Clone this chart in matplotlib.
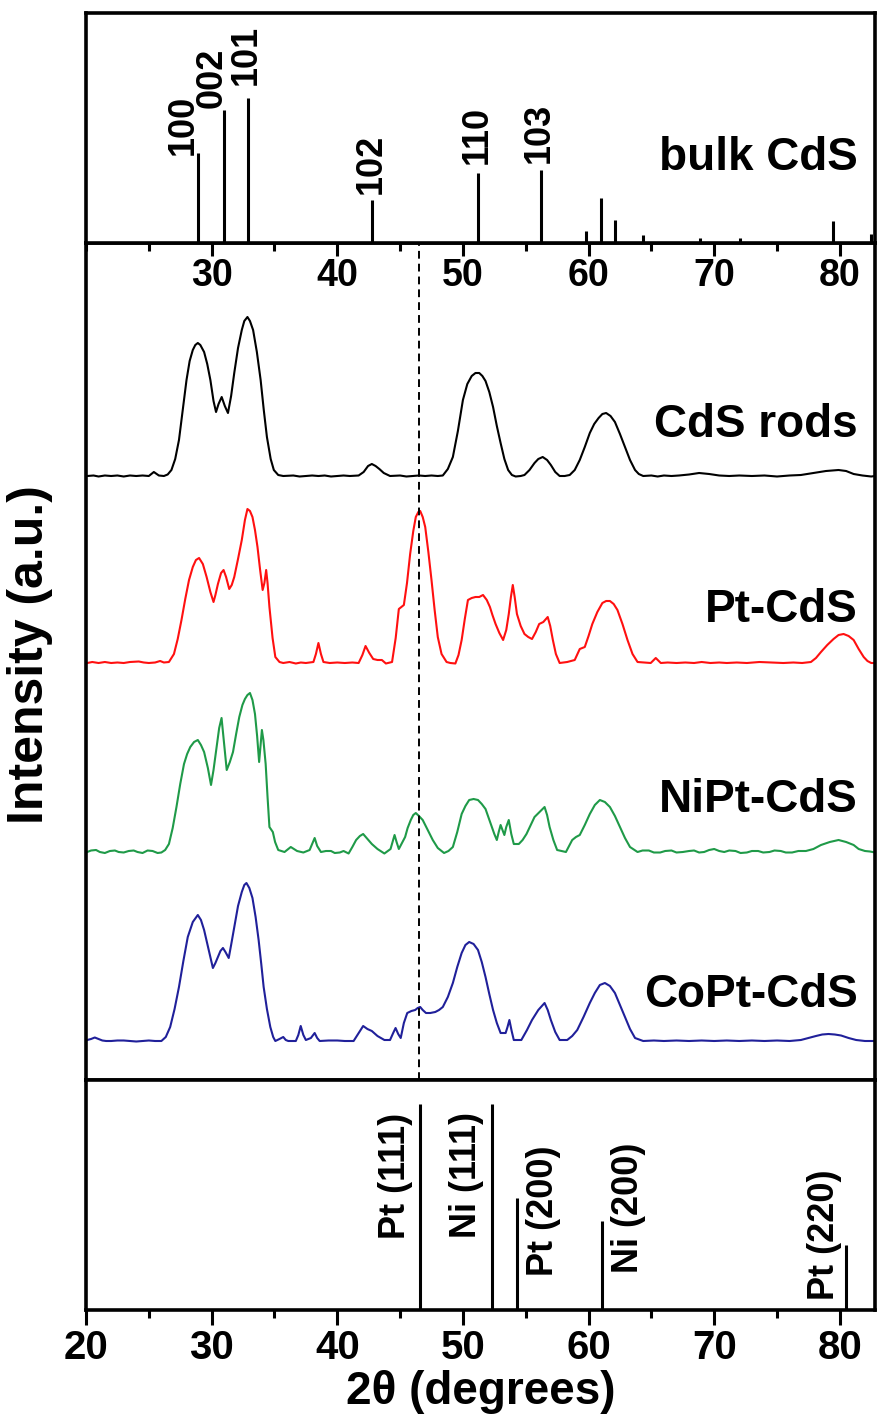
import matplotlib.pyplot as plt
from matplotlib.ticker import MultipleLocator

# bulk CdS reference lines (top panel), 2theta and relative height
cds_pos = [28.89, 30.95, 32.89, 42.78, 51.22, 56.19, 59.78, 60.99, 62.13, 64.35, 68.87, 72.02, 79.49, 82.52]
cds_int = [90, 133, 145, 43, 70, 73, 12, 45, 23, 8, 5, 5, 22, 9]
cds_hkl = ["100", "002", "101", "102", "110", "103"]

# Pt / Ni reference lines (bottom panel)
metal_pos = [46.6, 52.3, 54.3, 61.1, 80.5]
metal_int = [206, 206, 112, 89, 65]
metal_lbl = ["Pt (111)", "Ni (111)", "Pt (200)", "Ni (200)", "Pt (220)"]

# measured patterns: (2theta, height above the curve's own baseline)
rods = [(20.1, 0), (20.6, 0.5), (21.0, -0.5), (21.5, 0.5), (22.0, 0), (22.5, 0.5), (23.0, -0.5), (23.5, 0.5),
        (24.0, 0), (24.5, 0.5), (25.0, 0), (25.4, 4), (25.8, 0.5), (26.2, 0), (26.5, 1.5), (26.8, 6),
        (27.1, 17), (27.4, 36), (27.7, 66), (28.0, 96), (28.25, 115), (28.5, 126), (28.7, 131), (28.9, 133),
        (29.1, 131), (29.4, 124), (29.65, 112), (29.9, 96), (30.15, 75), (30.35, 64), (30.55, 72), (30.8, 79),
        (31.05, 70), (31.3, 63), (31.55, 80), (31.8, 103), (32.1, 128), (32.4, 146), (32.6, 155), (32.85, 159),
        (33.05, 155), (33.3, 146), (33.6, 124), (33.9, 96), (34.15, 66), (34.4, 39), (34.7, 17), (34.95, 6),
        (35.3, 1), (35.7, 0), (36.5, 0.5), (37.0, -0.5), (37.5, 0), (38.0, 0.5), (38.5, 0), (39.0, 0.5),
        (39.5, -0.5), (40.0, 0), (40.5, 0.5), (41.0, 0), (41.7, 0.5), (42.1, 4), (42.45, 10), (42.75, 12),
        (43.05, 10), (43.35, 7), (43.7, 3), (44.2, 0), (45.0, 0.5), (45.5, -0.5), (46.0, 0), (46.5, 0.5),
        (47.0, 0), (47.5, 0.5), (48.0, 0), (48.4, 0.5), (48.8, 7), (49.2, 19), (49.6, 45), (50.0, 76),
        (50.35, 92), (50.7, 100), (51.0, 103), (51.3, 103), (51.55, 100), (51.8, 95), (52.1, 84), (52.4, 69),
        (52.7, 50), (53.0, 33), (53.3, 17), (53.6, 6), (53.9, 1), (54.2, -0.5), (54.6, 0), (54.9, 1),
        (55.3, 6), (55.7, 13), (56.0, 17), (56.35, 19), (56.7, 16), (57.0, 11), (57.35, 4), (57.7, 0),
        (58.1, 0), (58.5, 1), (58.9, 6), (59.3, 16), (59.7, 29), (60.1, 43), (60.45, 52), (60.8, 58),
        (61.1, 62), (61.4, 63), (61.75, 60), (62.1, 54), (62.5, 42), (62.9, 29), (63.3, 16), (63.7, 6),
        (64.0, 2), (64.35, 0), (65.0, 0.5), (65.5, -0.5), (66.0, 0.5), (66.6, 0), (67.2, 0.5), (68.0, 1.5),
        (68.8, 3), (69.6, 2), (70.4, 0.5), (71.2, 0), (72.0, 0.5), (73.0, 0), (74.0, 0.5), (75.0, -0.5),
        (76.0, 0.5), (76.9, 1), (77.9, 3), (78.9, 5), (79.9, 6), (80.5, 5), (81.1, 2), (81.8, 0.5),
        (82.5, -0.5), (82.8, 0)]

pt_cds = [(20.1, 0), (20.5, 1), (21.0, 0), (21.5, 1), (22.0, 0), (22.5, 0.5), (23.0, 0), (23.5, 1),
          (24.2, 1.5), (24.6, 0.5), (25.0, 0), (25.5, 0.5), (25.9, 2), (26.2, 0.5), (26.6, 1), (27.0, 9),
          (27.3, 24), (27.6, 43), (27.9, 64), (28.2, 83), (28.5, 96), (28.75, 103), (29.0, 105), (29.3, 99),
          (29.6, 86), (29.9, 71), (30.15, 61), (30.3, 68), (30.5, 79), (30.75, 90), (30.95, 93), (31.15, 86),
          (31.4, 74), (31.6, 78), (31.8, 86), (32.1, 104), (32.4, 123), (32.65, 143), (32.85, 154), (33.05, 152),
          (33.25, 146), (33.45, 133), (33.65, 116), (33.85, 94), (34.06, 73), (34.2, 80), (34.34, 93), (34.45, 80),
          (34.6, 56), (34.85, 25), (35.07, 6), (35.4, 1), (35.7, 0), (36.2, 1), (36.7, -0.5), (37.1, 0.5),
          (37.5, 0), (38.1, 1), (38.3, 9), (38.5, 20), (38.7, 9), (38.9, 1), (39.4, 0), (40.0, 0.5),
          (40.6, 0), (41.2, 0.5), (41.7, 0), (42.0, 8), (42.25, 17), (42.55, 10), (42.86, 4), (43.2, 3),
          (43.55, 3), (43.87, -0.5), (44.36, 1), (44.65, 25), (44.9, 54), (45.1, 56), (45.3, 58), (45.55, 80),
          (45.8, 109), (46.05, 132), (46.25, 146), (46.45, 151), (46.6, 152), (46.8, 146), (47.0, 136), (47.25, 111),
          (47.5, 83), (47.75, 53), (48.0, 26), (48.3, 9), (48.7, 1), (49.0, 0), (49.4, -0.5), (49.65, 8),
          (49.9, 23), (50.15, 44), (50.4, 63), (50.7, 65), (51.0, 66), (51.3, 66), (51.6, 68), (51.9, 63),
          (52.15, 56), (52.35, 48), (52.6, 39), (52.9, 30), (53.2, 23), (53.45, 33), (53.65, 49), (53.82, 66),
          (53.97, 78), (54.12, 66), (54.3, 49), (54.6, 37), (54.9, 29), (55.2, 26), (55.5, 24), (55.8, 31),
          (56.07, 39), (56.4, 41), (56.75, 46), (56.95, 37), (57.16, 23), (57.4, 9), (57.7, 0), (58.3, 1),
          (58.9, 3), (59.3, 14), (59.7, 16), (60.0, 27), (60.3, 39), (60.7, 51), (61.1, 60), (61.4, 62),
          (61.7, 62), (62.0, 59), (62.3, 53), (62.7, 39), (63.1, 23), (63.5, 9), (63.9, 1), (64.4, 0.5),
          (64.95, 0), (65.35, 5), (65.75, 0), (66.3, 0.5), (67.0, 0), (67.7, 0.5), (68.4, 0), (69.0, 1),
          (69.7, 0), (70.4, 0.5), (71.0, 0), (71.8, 0.5), (72.6, 0), (73.6, 1), (74.5, 0.5), (75.5, 0),
          (76.3, 0.5), (77.0, 0), (77.7, 1), (78.1, 5), (78.5, 11), (79.0, 18), (79.5, 24), (79.9, 28),
          (80.3, 29), (80.7, 27), (81.1, 23), (81.5, 14), (81.9, 6), (82.2, 2), (82.5, 0), (82.8, 0)]

nipt_cds = [(20.1, 0), (20.4, 1.5), (20.8, 2), (21.1, 0), (21.5, -1), (21.9, 1), (22.3, 1.5), (22.6, 0),
            (23.0, -0.5), (23.4, 1), (23.8, 1.5), (24.1, 0), (24.5, -1), (24.9, 1.5), (25.3, 1), (25.7, -1),
            (26.0, -0.5), (26.3, 2), (26.6, 8), (26.9, 24), (27.2, 45), (27.5, 68), (27.8, 88), (28.05, 98),
            (28.3, 105), (28.6, 110), (28.9, 112), (29.15, 107), (29.4, 100), (29.7, 84), (29.95, 67), (30.15, 82),
            (30.4, 105), (30.6, 124), (30.79, 134), (30.98, 110), (31.2, 82), (31.45, 90), (31.7, 100), (31.95, 118),
            (32.2, 135), (32.45, 147), (32.65, 153), (32.85, 157), (33.05, 159), (33.25, 152), (33.45, 138), (33.62, 116),
            (33.78, 90), (33.9, 107), (34.0, 122), (34.12, 112), (34.3, 88), (34.45, 55), (34.6, 25), (34.87, 20),
            (35.05, 10), (35.3, 2), (35.8, 0), (36.3, 5), (36.8, 1), (37.3, -0.5), (37.8, 2), (38.0, 8),
            (38.2, 14), (38.4, 6), (38.7, 0), (39.1, 1), (39.5, 1), (39.8, -1), (40.2, -0.5), (40.5, 1),
            (40.9, -1.5), (41.2, 5), (41.5, 12), (41.8, 16), (42.06, 18), (42.4, 13), (42.75, 8), (43.2, 3),
            (43.75, -1.5), (44.24, 3), (44.4, 10), (44.56, 17), (44.72, 10), (44.9, 3), (45.15, 9), (45.4, 15),
            (45.6, 24), (45.85, 32), (46.05, 37), (46.25, 39), (46.5, 36), (46.8, 32), (47.2, 22), (47.6, 12),
            (48.0, 4), (48.5, -1), (48.85, 1), (49.2, 5), (49.55, 20), (49.9, 38), (50.2, 46), (50.5, 52),
            (50.85, 53), (51.2, 52), (51.5, 48), (51.8, 43), (52.05, 34), (52.3, 25), (52.5, 18), (52.7, 12),
            (52.85, 20), (53.0, 27), (53.15, 22), (53.3, 17), (53.45, 25), (53.65, 32), (53.85, 18), (54.05, 8),
            (54.45, 8), (54.75, 12), (55.06, 18), (55.4, 27), (55.7, 35), (56.1, 40), (56.5, 45), (56.7, 37),
            (56.9, 25), (57.2, 12), (57.5, 2), (57.85, 1), (58.2, 0), (58.45, 6), (58.7, 12), (59.0, 15),
            (59.3, 17), (59.7, 27), (60.1, 38), (60.5, 47), (60.9, 52), (61.3, 50), (61.7, 45), (62.1, 36),
            (62.5, 25), (62.9, 14), (63.3, 5), (63.9, 0), (64.3, 1.5), (64.8, 1.5), (65.2, -0.5), (65.7, -0.5),
            (66.1, 1), (66.6, 1.5), (67.0, -0.5), (67.5, 0), (68.0, 1), (68.4, 1.5), (68.8, -0.5), (69.2, 0),
            (69.6, 2), (70.0, 3), (70.4, 1), (70.8, 0), (71.2, 1.5), (71.7, 1), (72.1, -1), (72.6, -0.5),
            (73.0, 1), (73.5, 1), (73.9, -0.5), (74.4, 0), (74.8, 1.5), (75.3, 1), (75.7, -0.5), (76.2, -0.5),
            (76.7, 1), (77.3, 1), (77.9, 3), (78.5, 7), (79.2, 10), (79.9, 12), (80.5, 10), (81.1, 7),
            (81.5, 3), (82.0, 1), (82.4, 0.5), (82.8, -0.5)]

copt_cds = [(20.1, 1), (20.4, 2), (20.7, 3.5), (21.0, 2), (21.3, 0.5), (21.6, 0), (22.0, 0), (22.5, 0.5),
            (23.0, 0.5), (23.5, 0), (24.0, -0.5), (24.5, 0), (25.0, 0.5), (25.5, 0), (26.0, 0), (26.35, 4),
            (26.7, 14), (27.05, 32), (27.4, 54), (27.75, 80), (28.1, 104), (28.5, 119), (28.9, 126), (29.15, 121),
            (29.4, 111), (29.75, 92), (30.1, 73), (30.3, 78), (30.5, 84), (30.7, 90), (30.9, 93), (31.1, 89),
            (31.36, 83), (31.55, 96), (31.8, 114), (32.1, 135), (32.4, 149), (32.6, 156), (32.77, 158), (33.0, 153),
            (33.25, 143), (33.5, 124), (33.74, 101), (33.95, 77), (34.14, 54), (34.4, 32), (34.67, 14), (34.9, 4),
            (35.07, 0), (35.4, 2), (35.7, 4), (35.9, 1), (36.1, 0), (36.7, 0), (36.9, 6), (37.09, 15),
            (37.3, 6), (37.5, 1), (37.9, 3), (38.2, 8), (38.4, 3), (38.6, 0), (39.3, 0.5), (40.0, 0.5),
            (40.6, 0), (41.3, 0), (41.7, 8), (42.06, 15), (42.4, 12), (42.75, 10), (43.2, 5), (43.75, 1),
            (44.2, 1), (44.45, 8), (44.64, 13), (44.85, 7), (45.05, 3), (45.3, 18), (45.57, 28), (45.9, 30),
            (46.2, 31), (46.4, 33), (46.6, 34), (46.8, 31), (47.06, 28), (47.4, 28), (47.8, 29), (48.1, 31),
            (48.4, 34), (48.8, 44), (49.2, 58), (49.55, 74), (49.9, 88), (50.2, 96), (50.5, 99), (50.85, 97),
            (51.2, 91), (51.5, 79), (51.8, 64), (52.1, 47), (52.4, 31), (52.7, 18), (53.0, 8), (53.4, 8),
            (53.55, 14), (53.7, 21), (53.88, 10), (54.05, 1), (54.65, 1), (55.1, 11), (55.5, 21), (56.0, 31),
            (56.5, 38), (56.75, 31), (57.0, 21), (57.35, 9), (57.7, 1), (58.3, 1), (58.7, 5), (59.1, 11),
            (59.6, 24), (60.1, 38), (60.5, 48), (60.9, 56), (61.3, 58), (61.7, 55), (62.1, 48), (62.5, 36),
            (62.9, 24), (63.3, 12), (63.7, 3), (64.35, 0), (65.2, 0.5), (66.0, 0), (67.0, 0.5), (68.0, 0),
            (69.0, 0.5), (70.0, 0), (71.0, 0.5), (72.0, 0), (73.0, 0.5), (74.0, 0), (75.0, 0.5), (76.0, 0),
            (76.9, 1), (77.5, 3), (78.1, 5), (78.6, 6.5), (79.1, 7), (79.6, 6.5), (80.1, 5.5), (80.7, 3),
            (81.3, 1), (82.0, 0), (82.5, 0), (82.8, 0)]

samples = ["CdS rods", "Pt-CdS", "NiPt-CdS", "CoPt-CdS"]
sample_data = [rods, pt_cds, nipt_cds, copt_cds]
offsets = [604, 417, 228, 39]
colors = ["black", "#ff1010", "#1f9a48", "#20209a"]

plt.rcParams['font.family'] = ['Liberation Sans', 'DejaVu Sans']
plt.rcParams['font.weight'] = 'bold'

W, H = 878, 1427
fig = plt.figure(figsize=(W / 100, H / 100), dpi=100)
left, width = 86 / W, 789 / W
ax_top = fig.add_axes([left, 1 - 243 / H, width, 230 / H], zorder=3)
ax_mid = fig.add_axes([left, 1 - 1080 / H, width, 837 / H], zorder=2)
ax_bot = fig.add_axes([left, 1 - 1310 / H, width, 230 / H], zorder=3)
ax_mid.set_facecolor('none')

for ax in (ax_top, ax_mid, ax_bot):
    ax.set_xlim(20, 82.8)
    ax.set_yticks([])
    for sp in ax.spines.values():
        sp.set_linewidth(2.6)

# top: bulk CdS sticks
ax_top.vlines(cds_pos, 0, cds_int, color='black', lw=2.2)
ax_top.set_ylim(0, 230)
lbl_dx = [-1.17, -0.95, -0.1, -0.1, -0.1, -0.1]
lbl_dy = [-2, 2, 13, 6, 9, 7]
for i, hkl in enumerate(cds_hkl):
    ax_top.text(cds_pos[i] + lbl_dx[i], cds_int[i] + lbl_dy[i], hkl, rotation=90,
                ha='center', va='bottom', fontsize=26, fontweight='bold')
ax_top.text(81.4, 73, "bulk CdS", ha='right', va='baseline', fontsize=33, fontweight='bold')
ax_top.set_xticks([30, 40, 50, 60, 70, 80])
ax_top.xaxis.set_minor_locator(MultipleLocator(5))
ax_top.tick_params(axis='x', which='major', direction='out', length=9.5, width=2.2, pad=1, labelsize=27)
ax_top.tick_params(axis='x', which='minor', direction='out', length=6, width=2.2)

# middle: measured patterns
for pts, off, c in zip(sample_data, offsets, colors):
    xs, ys = zip(*pts)
    ax_mid.plot(xs, [v + off for v in ys], color=c, lw=1.5)
label_y = [643, 458, 268, 73]
for name, ly in zip(samples, label_y):
    ax_mid.text(81.4, ly, name, ha='right', va='baseline', fontsize=33, fontweight='bold')
ax_mid.axvline(46.5, color='black', lw=1.4, ls=(0, (4, 2.6)))
ax_mid.set_ylim(0, 837)
ax_mid.set_xticks([])

# bottom: Pt / Ni sticks
ax_bot.vlines(metal_pos, 0, metal_int, color='black', lw=2.2)
ax_bot.set_ylim(0, 230)
m_dx = [-1.94, -2.02, 2.14, 2.1, -1.7]
m_y = [71, 72, 34, 37, 10]
for i, lbl in enumerate(metal_lbl):
    ax_bot.text(metal_pos[i] + m_dx[i], m_y[i], lbl, rotation=90,
                ha='center', va='bottom', fontsize=26, fontweight='bold')
ax_bot.set_xticks([20, 30, 40, 50, 60, 70, 80])
ax_bot.xaxis.set_minor_locator(MultipleLocator(5))
ax_bot.tick_params(axis='x', which='major', direction='out', length=10.5, width=2.2, pad=3, labelsize=29)
ax_bot.tick_params(axis='x', which='minor', direction='out', length=6, width=2.2)
ax_bot.set_xlabel("2θ (degrees)", fontsize=33, fontweight='bold', labelpad=2)

fig.text(30 / W, 1 - 655 / H, "Intensity (a.u.)", rotation=90, ha='center', va='center',
         fontsize=36, fontweight='bold')

fig.savefig('out.png', dpi=100)
